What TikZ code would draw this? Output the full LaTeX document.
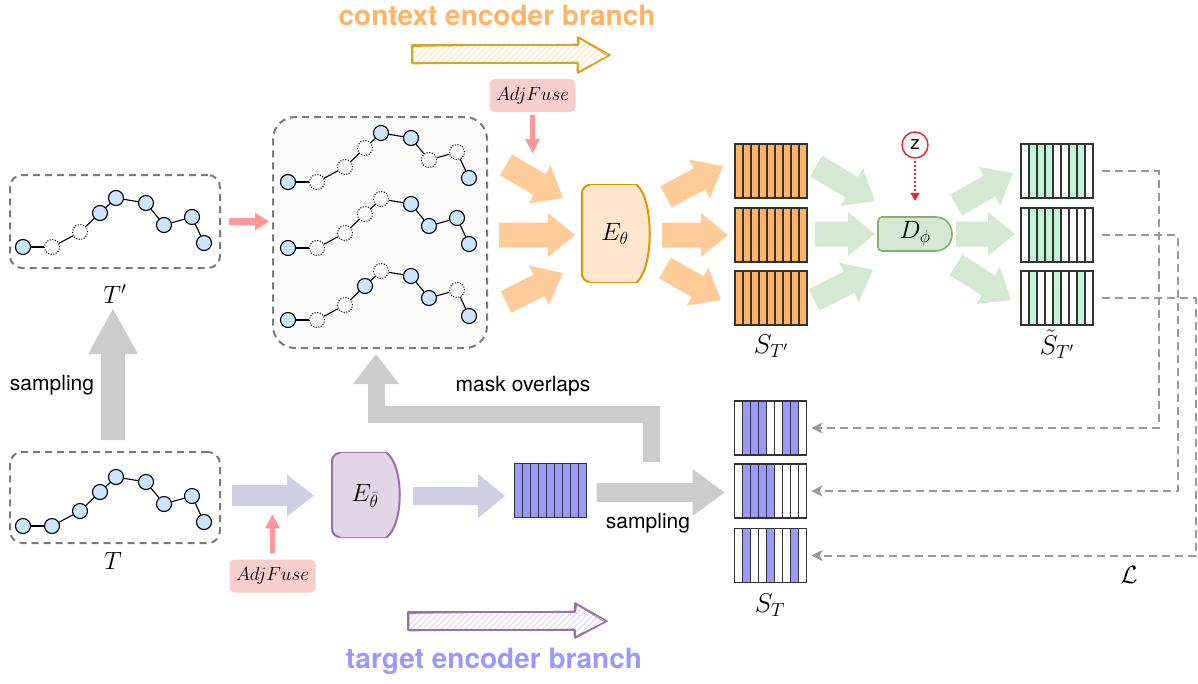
\documentclass[tikz,border=0pt]{standalone}
\usepackage{fix-cm}
\usepackage{fontspec}
\newfontfamily\hv{TeX Gyre Heros}
\usetikzlibrary{calc,arrows.meta}
\definecolor{titleorange}{HTML}{FFB366}
\definecolor{orangearrow}{HTML}{FFCC99}
\definecolor{efill}{HTML}{FFE6CC}
\definecolor{edraw}{HTML}{D79B00}
\definecolor{stripeorange}{HTML}{FFB366}
\definecolor{greenarrow}{HTML}{D5E8D4}
\definecolor{dfill}{HTML}{D5E8D4}
\definecolor{ddraw}{HTML}{82B366}
\definecolor{stripegreen}{HTML}{C3F2DA}
\definecolor{stripeblue}{HTML}{9999FF}
\definecolor{lavarrow}{HTML}{D0CEE2}
\definecolor{ebfill}{HTML}{E1D5E7}
\definecolor{ebdraw}{HTML}{9673A6}
\definecolor{grayarrow}{HTML}{CCCCCC}
\definecolor{pinkfill}{HTML}{F8CECC}
\definecolor{pinkarrow}{HTML}{FF9999}
\definecolor{boxgray}{HTML}{7A7A7A}
\definecolor{boxfill}{HTML}{FAFAFA}
\definecolor{nodeblue}{HTML}{CCE5FF}
\definecolor{lossgray}{HTML}{999999}
\definecolor{zred}{HTML}{EE2222}
\definecolor{titlepurple}{HTML}{9999FF}
\definecolor{gold}{HTML}{D6A528}
\definecolor{goldhatch}{HTML}{F6E4B8}
\definecolor{sketchpurple}{HTML}{9673A6}
\definecolor{purplehatch}{HTML}{DDD3E6}
\definecolor{stripeline}{HTML}{333333}

\tikzset{
  tns/.style={circle, draw=black, fill=nodeblue, line width=1.1pt, minimum size=15pt, inner sep=0pt},
  tnd/.style={circle, draw=black, dash pattern=on 1pt off 1.6pt, line width=1pt, minimum size=15pt, inner sep=0pt},
  edge/.style={line width=1.1pt, draw=black},
  dbox/.style={draw=boxgray, dash pattern=on 7pt off 5pt, line width=2pt, rounded corners=12pt, inner sep=0pt},
  blk/.style={minimum width=72pt, minimum height=54pt, inner sep=0pt, outer sep=0pt},
  stripe/.style={draw=stripeline, line width=1.2pt},
  loss/.style={draw=lossgray, line width=2pt, dash pattern=on 8pt off 5pt, -{Stealth[length=11pt,width=11pt,inset=3pt]}},
  adj/.style={fill=pinkfill, rounded corners=5pt, minimum width=86pt, minimum height=33pt, inner sep=0pt, font=\fontsize{19}{22}\selectfont},
  mlabel/.style={font=\fontsize{25}{28}\selectfont},
  slabel/.style={font=\fontsize{27}{30}\selectfont},
  txt/.style={font=\hv\fontsize{21}{24}\selectfont},
  title/.style={font=\hv\bfseries\fontsize{28}{32}\selectfont},
}

% fat arrow: style, start, tip, half body, half head, head length
\newcommand\fatarrow[6]{%
  \coordinate (fH) at ($(#3)!#6!(#2)$);
  \fill[#1] ($(#2)!#4!90:(#3)$) -- ($(fH)!#4!-90:(#2)$) -- ($(fH)!#5!-90:(#2)$) -- (#3)
     -- ($(fH)!#5!90:(#2)$) -- ($(fH)!#4!90:(#2)$) -- ($(#2)!#4!-90:(#3)$) -- cycle;
}

% chain of trajectory points: prefix, x0, y0, mask list (1 = dotted)
\newcommand\drawchain[4]{%
  \foreach \dx/\dy [count=\i] in {0/0,29/0,57/-15,77/-34,93/-49,123/-44,141/-22,169/-30,181/-4}{%
    \pgfmathtruncatemacro\m{{#4}[\i-1]}%
    \ifnum\m=1 \node[tnd] (#1\i) at (#2+\dx,#3+\dy) {};\else \node[tns] (#1\i) at (#2+\dx,#3+\dy) {};\fi
  }
  \foreach \i [evaluate=\i as \j using int(\i+1)] in {1,...,8}{\draw[edge] (#1\i) -- (#1\j);}
}

% feature block: name, position, colour, pattern
\newcommand\featblock[4]{%
  \node[blk] (#1) at #2 {};
  \foreach \v [count=\k] in {#4}{\ifnum\v=1 \fill[#3] ($(#1.north west)+(8*\k-8,0)$) rectangle ($(#1.south west)+(8*\k,0)$);\fi}
  \foreach \k in {1,...,8}{\draw[stripe] ($(#1.north west)+(8*\k,0)$) -- ($(#1.south west)+(8*\k,0)$);}
  \draw[stripe] (#1.north west) rectangle (#1.south east);
}

\begin{document}
\begin{tikzpicture}[x=1pt,y=-1pt]
\useasboundingbox[fill=white] (0,0) rectangle (1198,683);

% ---------- titles and sketch arrows ----------
\node[title, text=titleorange] (ctitle) at (497,15) {context encoder branch};
\node[title, text=titlepurple] (ttitle) at (494,661) {target encoder branch};

\begin{scope}
  \clip (412,45) -- (578,45) -- (578,37) -- (610,55) -- (578,73) -- (578,63) -- (412,63) -- cycle;
  \foreach \k in {380,386,...,620} \draw[goldhatch, line width=0.8pt] (\k,75) -- ++(40,-40);
\end{scope}
\draw[gold, line width=1.6pt, line join=round] (412,45) -- (578,45) -- (578,37) -- (610,55) -- (578,73) -- (578,63) -- (412,63) -- cycle;
\draw[gold, line width=0.7pt, line join=round] (413,46.5) -- (579,44) -- (579.5,38.5) -- (608,56) -- (577,72) -- (577,62) -- (413,64) -- cycle;

\begin{scope}
  \clip (408,612) -- (575,612) -- (575,603) -- (607,621) -- (575,638) -- (575,630) -- (408,630) -- cycle;
  \foreach \k in {380,386,...,620} \draw[purplehatch, line width=0.8pt] (\k,642) -- ++(40,-40);
\end{scope}
\draw[sketchpurple, line width=1.6pt, line join=round] (408,612) -- (575,612) -- (575,603) -- (607,621) -- (575,638) -- (575,630) -- (408,630) -- cycle;
\draw[sketchpurple, line width=0.7pt, line join=round] (409,613.5) -- (576,611) -- (576.5,604.5) -- (605,622) -- (574,637) -- (574,629) -- (409,631) -- cycle;

% ---------- trajectory boxes ----------
\node[dbox, minimum width=210pt, minimum height=93pt] (boxTp) at (115,221.5) {};
\node[dbox, minimum width=210pt, minimum height=91pt] (boxT) at (115,497.5) {};
\node[dbox, fill=boxfill, rounded corners=22pt, minimum width=214pt, minimum height=231pt] (boxM) at (380,232.5) {};

\drawchain{tp}{23}{247}{0,1,1,0,0,0,0,0,0}
\drawchain{ta}{23}{526}{0,0,0,0,0,0,0,0,0}
\drawchain{ma}{288}{182}{0,1,1,1,0,0,1,1,0}
\drawchain{mb}{288}{248}{0,1,1,1,1,0,0,0,0}
\drawchain{mc}{288}{320}{0,1,1,0,1,0,0,1,0}

\node[mlabel] (lTp) at (115,294) {$T'$};
\node[mlabel] (lT) at (113,561) {$T$};

% sampling T -> T'
\coordinate (sA) at ($(boxT.north)+(-2,-11)$);
\coordinate (sB) at ($(boxTp.south)+(-2,40)$);
\fatarrow{grayarrow}{sA}{sB}{12pt}{25pt}{45pt}
\node[txt] (lsamp1) at (52,385) {sampling};

% pink arrow T' -> masked set
\coordinate (pA) at ($(boxTp.east)+(8,0)$);
\coordinate (pB) at ($(boxTp.east)+(48,0)$);
\fatarrow{pinkarrow}{pA}{pB}{3.5pt}{9pt}{14pt}

% ---------- context encoder ----------
\draw[draw=edraw, fill=efill, line width=2pt, rounded corners=8pt] (637,282) -- (582,282) -- (582,185) -- (637,185);
\fill[efill] (590,185) -- (637,185) .. controls (654,200) and (654,267) .. (637,282) -- (590,282) -- cycle;
\draw[draw=edraw, line width=2pt] (636,185) -- (637,185) .. controls (654,200) and (654,267) .. (637,282) -- (636,282);
\node[mlabel] (Eth) at (615,234) {$E_\theta$};

\node[adj] (adj1) at (532.5,95.5) {$AdjFuse$};
\coordinate (a1A) at ($(adj1.south)+(0,3)$);
\coordinate (a1B) at ($(adj1.south)+(0,41)$);
\fatarrow{pinkarrow}{a1A}{a1B}{2.5pt}{7.5pt}{14pt}

\coordinate (oi1a) at (506,165); \coordinate (oi1b) at (563,198);
\coordinate (oi2a) at (499,235); \coordinate (oi2b) at (575,235);
\coordinate (oi3a) at (506,302); \coordinate (oi3b) at (563,273);
\fatarrow{orangearrow}{oi1a}{oi1b}{12pt}{22pt}{27pt}
\fatarrow{orangearrow}{oi2a}{oi2b}{12.5pt}{22pt}{27pt}
\fatarrow{orangearrow}{oi3a}{oi3b}{12pt}{22pt}{27pt}

\coordinate (oo1a) at (666,197); \coordinate (oo1b) at (723,166);
\coordinate (oo2a) at (662,235); \coordinate (oo2b) at (728,235);
\coordinate (oo3a) at (665,268); \coordinate (oo3b) at (721,300);
\fatarrow{orangearrow}{oo1a}{oo1b}{12pt}{22pt}{27pt}
\fatarrow{orangearrow}{oo2a}{oo2b}{12.5pt}{22pt}{27pt}
\fatarrow{orangearrow}{oo3a}{oo3b}{12pt}{22pt}{27pt}

% S_T' blocks
\featblock{so1}{(771,171)}{stripeorange}{1,1,1,1,1,1,1,1,1}
\featblock{so2}{(771,235)}{stripeorange}{1,1,1,1,1,1,1,1,1}
\featblock{so3}{(771,298)}{stripeorange}{1,1,1,1,1,1,1,1,1}
\node[slabel] (lSo) at (771,346) {$S_{T'}$};

% green arrows to decoder
\coordinate (g1a) at (816,166); \coordinate (g1b) at (875,201);
\coordinate (g2a) at (815,234); \coordinate (g2b) at (875,234);
\coordinate (g3a) at (814,300); \coordinate (g3b) at (873,270);
\fatarrow{greenarrow}{g1a}{g1b}{12pt}{22pt}{27pt}
\fatarrow{greenarrow}{g2a}{g2b}{12.5pt}{22pt}{27pt}
\fatarrow{greenarrow}{g3a}{g3b}{12pt}{22pt}{27pt}

% decoder
\draw[draw=ddraw, fill=dfill, line width=1.6pt] (935,251) [rounded corners=4pt] -- (878,251) -- (878,217) [sharp corners] -- (935,217) .. controls (957.7,217) and (957.7,251) .. (935,251) -- cycle;
\node[mlabel, minimum height=34pt, inner sep=0pt] (Dph) at (915,234) {$D_\phi$};

\node[circle, draw=zred, fill=white, line width=1.4pt, minimum size=26pt, inner sep=0pt, font=\hv\fontsize{19}{20}\selectfont] (z) at (915,145) {z};
\draw[draw=zred, line width=1.4pt, dash pattern=on 2pt off 2pt, shorten <=2pt, shorten >=16pt, -{Triangle[length=8pt,width=9pt]}] (z) -- (Dph);

\coordinate (h1a) at (956,205); \coordinate (h1b) at (1013,173);
\coordinate (h2a) at (956,234); \coordinate (h2b) at (1015,234);
\coordinate (h3a) at (956,265); \coordinate (h3b) at (1011,300);
\fatarrow{greenarrow}{h1a}{h1b}{12pt}{22pt}{27pt}
\fatarrow{greenarrow}{h2a}{h2b}{12.5pt}{22pt}{27pt}
\fatarrow{greenarrow}{h3a}{h3b}{12pt}{22pt}{27pt}

\featblock{sa1}{(1057,171)}{stripegreen}{0,1,1,1,0,0,1,1,0}
\featblock{sa2}{(1057,235)}{stripegreen}{0,1,1,1,1,0,0,0,0}
\featblock{sa3}{(1057,298)}{stripegreen}{0,1,0,0,1,0,0,1,0}
\node[slabel] (lSa) at (1057,344) {$\tilde{S}_{T'}$};

% ---------- target encoder ----------
\coordinate (lv1a) at ($(boxT.east)+(11,-2)$);
\coordinate (lv1b) at ($(boxT.east)+(93,-2)$);
\fatarrow{lavarrow}{lv1a}{lv1b}{10.5pt}{21pt}{27pt}

\node[adj] (adj2) at (272.5,576) {$AdjFuse$};
\coordinate (a2A) at ($(adj2.north)+(0,-6)$);
\coordinate (a2B) at ($(adj2.north)+(0,-45)$);
\fatarrow{pinkarrow}{a2A}{a2B}{2.5pt}{7.5pt}{14pt}

\draw[draw=ebdraw, fill=ebfill, line width=2pt, rounded corners=8pt] (387,537) -- (332,537) -- (332,453) -- (387,453);
\fill[ebfill] (340,453) -- (387,453) .. controls (404,467) and (404,523) .. (387,537) -- (340,537) -- cycle;
\draw[draw=ebdraw, line width=2pt] (386,453) -- (387,453) .. controls (404,467) and (404,523) .. (387,537) -- (386,537);
\node[mlabel] (Ebar) at (365,496) {$E_{\bar\theta}$};

\coordinate (lv2a) at (413,496); \coordinate (lv2b) at (505,496);
\fatarrow{lavarrow}{lv2a}{lv2b}{9pt}{22pt}{27pt}

\featblock{sb}{(550.5,490.5)}{stripeblue}{1,1,1,1,1,1,1,1,1}

\coordinate (smA) at ($(sb.east)+(10,2)$);
\coordinate (smB) at ($(sb.east)+(138,2)$);
\fatarrow{grayarrow}{smA}{smB}{9.5pt}{23.5pt}{32pt}
\node[txt] (lsamp2) at (648,523) {sampling};

% mask overlaps
\coordinate (mo1) at (651,462);
\coordinate (mo2) at (376,414);
\coordinate (mo3) at (376,383);
\coordinate (mo4) at ($(boxM.south)+(-4,5)$);
\draw[draw=grayarrow, line width=17pt, line join=miter] (mo1) |- (mo2) -- (mo3);
\fill[grayarrow] (353,384) -- (399,384) -- (mo4) -- cycle;
\node[txt] (lmask) at (523,386) {mask overlaps};

% S_T blocks
\featblock{st1}{(770.5,428)}{stripeblue}{0,1,1,1,0,0,1,1,0}
\featblock{st2}{(770.5,491)}{stripeblue}{0,1,1,1,1,0,0,0,0}
\featblock{st3}{(770.5,555.5)}{stripeblue}{0,1,0,0,1,0,0,1,0}
\node[slabel] (lSt) at (770,605) {$S_T$};

% loss connectors
\draw[loss] ($(sa1.east)+(9,0)$) -| ($(st1.east)+(352,0)$) -- ($(st1.east)+(5,0)$);
\draw[loss] ($(sa2.east)+(9,0)$) -| ($(st2.east)+(371,0)$) -- ($(st2.east)+(5,0)$);
\draw[loss] ($(sa3.east)+(9,0)$) -| ($(st3.east)+(389,0)$) -- ($(st3.east)+(5,0)$);
\node[mlabel] (lL) at (1129,575) {$\mathcal{L}$};
\end{tikzpicture}
\end{document}
